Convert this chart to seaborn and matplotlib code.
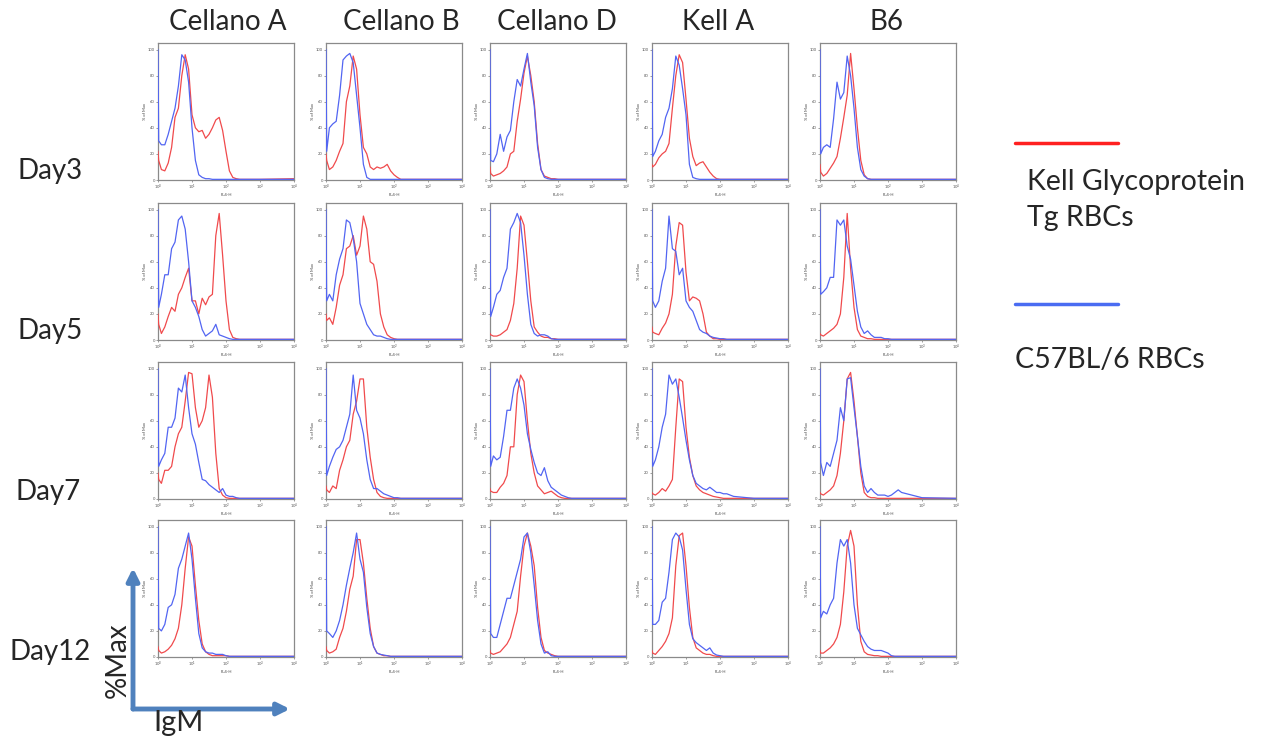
import numpy as np
import pandas as pd
import seaborn as sns
import matplotlib.pyplot as plt
from matplotlib.patches import FancyArrowPatch

# FL4-H channel, in decades (value = 10 ** exp), shared by all histograms
fl4_exp = [0, 0.02, 0.1, 0.2, 0.3, 0.4, 0.5, 0.6, 0.7, 0.8, 0.9, 1.0,
           1.1, 1.2, 1.3, 1.4, 1.5, 1.6, 1.7, 1.8, 1.9, 2.0,
           2.1, 2.2, 2.3, 2.4, 3.0, 4.0]

antigens = ['Cellano A', 'Cellano B', 'Cellano D', 'Kell A', 'B6']
days = ['Day3', 'Day5', 'Day7', 'Day12']
cells = ['Kell Glycoprotein Tg RBCs', 'C57BL/6 RBCs']

# % of Max, tg = Kell glycoprotein Tg RBCs (red), b6 = C57BL/6 RBCs (blue)
# Day 3
ca3_tg = [22, 15, 8, 7, 13, 25, 48, 55, 80, 96, 85, 50, 40, 37, 38, 32, 35, 40, 46, 48, 38, 22, 7, 2, 1, 0.5, 0.5, 1]
ca3_b6 = [100, 30, 27, 27, 35, 45, 55, 72, 96, 92, 75, 40, 15, 4, 2, 1, 1, 0.5, 0.5, 0.5, 0.5, 0.5, 0.5, 0.5, 0.5, 0.5, 0.5, 0.5]
cb3_tg = [20, 15, 8, 10, 15, 22, 28, 60, 72, 95, 85, 50, 25, 20, 10, 8, 10, 9, 10, 12, 7, 4, 2, 0.5, 0.5, 0.5, 0.5, 0.5]
cb3_b6 = [100, 22, 40, 43, 45, 65, 92, 95, 97, 90, 65, 40, 12, 2, 0.5, 0.5, 0.5, 0.5, 0.5, 0.5, 0.5, 0.5, 0.5, 0.5, 0.5, 0.5, 0.5, 0.5]
cd3_tg = [10, 5, 3, 4, 5, 7, 10, 20, 22, 45, 62, 82, 95, 80, 60, 28, 8, 3, 2, 1, 1, 0.5, 0.5, 0.5, 0.5, 0.5, 0.5, 0.5]
cd3_b6 = [100, 15, 14, 20, 35, 22, 33, 38, 60, 77, 72, 85, 97, 75, 57, 25, 8, 2, 1, 0.5, 0.5, 0.5, 0.5, 0.5, 0.5, 0.5, 0.5, 0.5]
ka3_tg = [12, 10, 12, 17, 20, 22, 28, 55, 80, 96, 90, 62, 32, 18, 11, 13, 14, 10, 6, 3, 1, 0.5, 0.5, 0.5, 0.5, 0.5, 0.5, 0.5]
ka3_b6 = [100, 18, 22, 30, 35, 48, 55, 70, 95, 88, 70, 50, 12, 2, 1, 0.5, 0.5, 0.5, 0.5, 0.5, 0.5, 0.5, 0.5, 0.5, 0.5, 0.5, 0.5, 0.5]
b63_tg = [12, 6, 3, 5, 9, 13, 18, 32, 48, 65, 97, 70, 40, 15, 4, 1, 0.5, 0.5, 0.5, 0.5, 0.5, 0.5, 0.5, 0.5, 0.5, 0.5, 0.5, 0.5]
b63_b6 = [100, 20, 25, 27, 25, 47, 75, 62, 67, 95, 80, 55, 25, 8, 3, 1, 0.5, 0.5, 0.5, 0.5, 0.5, 0.5, 0.5, 0.5, 0.5, 0.5, 0.5, 0.5]
# Day 5
ca5_tg = [20, 12, 5, 10, 18, 25, 22, 35, 40, 48, 55, 30, 30, 20, 32, 27, 33, 35, 80, 97, 65, 30, 8, 2, 1, 0.5, 0.5, 0.5]
ca5_b6 = [100, 25, 35, 50, 50, 70, 75, 92, 95, 85, 60, 30, 25, 18, 8, 3, 5, 7, 12, 4, 3, 2, 1, 0.5, 0.5, 0.5, 0.5, 0.5]
cb5_tg = [20, 15, 17, 12, 25, 42, 50, 70, 72, 80, 65, 72, 95, 85, 60, 58, 45, 20, 10, 4, 2, 1, 0.5, 0.5, 0.5, 0.5, 0.5, 0.5]
cb5_b6 = [100, 30, 35, 30, 50, 62, 70, 92, 90, 78, 60, 28, 20, 12, 8, 4, 3, 3, 2, 1, 0.5, 0.5, 0.5, 0.5, 0.5, 0.5, 0.5, 0.5]
cd5_tg = [5, 4, 3, 3, 4, 6, 8, 15, 28, 55, 95, 88, 60, 30, 10, 6, 3, 2, 2, 1, 1, 0.5, 0.5, 0.5, 0.5, 0.5, 0.5, 0.5]
cd5_b6 = [100, 18, 25, 35, 38, 48, 55, 85, 90, 97, 90, 65, 35, 12, 5, 3, 4, 4, 3, 1, 0.5, 0.5, 0.5, 0.5, 0.5, 0.5, 0.5, 0.5]
ka5_tg = [10, 6, 5, 4, 9, 13, 20, 35, 72, 90, 88, 52, 30, 33, 32, 30, 20, 6, 3, 1, 1, 0.5, 0.5, 0.5, 0.5, 0.5, 0.5, 0.5]
ka5_b6 = [100, 30, 25, 30, 45, 55, 95, 70, 68, 50, 55, 30, 25, 22, 15, 8, 6, 5, 3, 2, 1.5, 1, 1, 0.5, 0.5, 0.5, 0.5, 0.5]
b65_tg = [5, 4, 3, 5, 7, 9, 12, 20, 48, 97, 55, 25, 8, 3, 2, 1, 1, 0.5, 0.5, 0.5, 0.5, 0.5, 0.5, 0.5, 0.5, 0.5, 0.5, 0.5]
b65_b6 = [100, 35, 37, 40, 48, 48, 92, 88, 92, 72, 62, 42, 22, 10, 5, 7, 4, 2, 2, 2, 1, 1, 0.5, 0.5, 0.5, 0.5, 0.5, 0.5]
# Day 7
ca7_tg = [20, 15, 12, 22, 22, 25, 40, 50, 55, 75, 97, 96, 70, 55, 60, 70, 95, 78, 35, 8, 3, 1, 0.5, 0.5, 0.5, 0.5, 0.5, 0.5]
ca7_b6 = [100, 25, 30, 35, 55, 55, 62, 85, 82, 95, 70, 50, 42, 28, 15, 14, 11, 9, 7, 5, 8, 3, 2, 2, 1, 0.5, 0.5, 0.5]
cb7_tg = [10, 7, 5, 10, 8, 22, 30, 40, 45, 65, 75, 92, 92, 55, 32, 15, 5, 2, 1, 0.5, 0.5, 0.5, 0.5, 0.5, 0.5, 0.5, 0.5, 0.5]
cb7_b6 = [100, 18, 25, 32, 38, 40, 45, 55, 65, 95, 68, 62, 50, 30, 15, 8, 8, 6, 4, 3, 2, 1, 1, 0.5, 0.5, 0.5, 0.5, 0.5]
cd7_tg = [8, 6, 5, 5, 9, 12, 18, 40, 40, 80, 95, 90, 60, 35, 20, 10, 7, 4, 5, 6, 4, 2, 1, 0.5, 0.5, 0.5, 0.5, 0.5]
cd7_b6 = [100, 25, 33, 30, 32, 48, 68, 68, 85, 92, 85, 72, 50, 38, 28, 20, 18, 24, 14, 9, 7, 5, 3, 2, 1, 0.5, 0.5, 0.5]
ka7_tg = [5, 4, 3, 5, 8, 6, 10, 15, 55, 92, 90, 55, 32, 18, 10, 7, 5, 4, 3, 2, 1.5, 1, 0.5, 0.5, 0.5, 0.5, 0.5, 0.5]
ka7_b6 = [100, 25, 30, 40, 55, 65, 95, 88, 92, 78, 62, 45, 30, 18, 12, 10, 8, 7, 9, 7, 5, 5, 4, 4, 3, 2, 0.5, 0.5]
b67_tg = [5, 4, 3, 5, 7, 10, 18, 35, 60, 92, 97, 75, 48, 20, 5, 2, 1, 1, 0.5, 0.5, 0.5, 0.5, 0.5, 0.5, 0.5, 0.5, 0.5, 0.5]
b67_b6 = [100, 28, 18, 28, 25, 35, 45, 70, 60, 92, 93, 70, 48, 25, 10, 5, 8, 5, 3, 3, 3, 2, 3, 5, 7, 5, 1, 0.5]
# Day 12
ca12_tg = [8, 5, 3, 4, 6, 9, 14, 22, 40, 68, 92, 85, 55, 28, 10, 4, 2, 1, 1, 1, 1, 1, 0.5, 0.5, 0.5, 0.5, 0.5, 0.5]
ca12_b6 = [100, 22, 20, 25, 38, 40, 48, 68, 75, 85, 95, 75, 45, 18, 7, 4, 3, 3, 2, 2, 2, 1, 0.5, 0.5, 0.5, 0.5, 0.5, 0.5]
cb12_tg = [8, 5, 3, 4, 6, 15, 22, 35, 52, 62, 90, 90, 72, 45, 22, 8, 3, 2, 1, 1, 0.5, 0.5, 0.5, 0.5, 0.5, 0.5, 0.5, 0.5]
cb12_b6 = [100, 20, 18, 15, 20, 28, 40, 55, 68, 80, 95, 75, 65, 38, 18, 8, 3, 2, 1.5, 1, 0.5, 0.5, 0.5, 0.5, 0.5, 0.5, 0.5, 0.5]
cd12_tg = [5, 3, 2, 3, 4, 7, 10, 15, 25, 35, 62, 85, 95, 85, 70, 38, 15, 5, 3, 2, 1, 0.5, 0.5, 0.5, 0.5, 0.5, 0.5, 0.5]
cd12_b6 = [100, 18, 15, 15, 25, 35, 45, 45, 55, 65, 75, 92, 95, 80, 55, 28, 10, 3, 4, 1, 0.5, 0.5, 0.5, 0.5, 0.5, 0.5, 0.5, 0.5]
ka12_tg = [5, 3, 2, 5, 8, 12, 18, 30, 70, 93, 95, 70, 38, 15, 7, 5, 3, 2, 2, 1, 0.5, 0.5, 0.5, 0.5, 0.5, 0.5, 0.5, 0.5]
ka12_b6 = [100, 25, 25, 28, 42, 45, 65, 90, 95, 92, 82, 52, 25, 14, 11, 9, 7, 5, 7, 3, 1.5, 1, 0.5, 0.5, 0.5, 0.5, 0.5, 0.5]
b612_tg = [5, 3, 3, 5, 7, 10, 15, 25, 50, 85, 97, 85, 40, 12, 4, 2, 1.5, 1, 1, 0.5, 0.5, 0.5, 0.5, 0.5, 0.5, 0.5, 0.5, 0.5]
b612_b6 = [100, 30, 35, 33, 40, 45, 72, 90, 85, 90, 72, 40, 22, 17, 12, 8, 6, 5, 5, 5, 4, 3, 1, 0.5, 0.5, 0.5, 0.5, 0.5]

curves = {
    'Day3': [(ca3_tg, ca3_b6), (cb3_tg, cb3_b6), (cd3_tg, cd3_b6), (ka3_tg, ka3_b6), (b63_tg, b63_b6)],
    'Day5': [(ca5_tg, ca5_b6), (cb5_tg, cb5_b6), (cd5_tg, cd5_b6), (ka5_tg, ka5_b6), (b65_tg, b65_b6)],
    'Day7': [(ca7_tg, ca7_b6), (cb7_tg, cb7_b6), (cd7_tg, cd7_b6), (ka7_tg, ka7_b6), (b67_tg, b67_b6)],
    'Day12': [(ca12_tg, ca12_b6), (cb12_tg, cb12_b6), (cd12_tg, cd12_b6), (ka12_tg, ka12_b6), (b612_tg, b612_b6)],
}

rows = []
for day in days:
    for ag, pair in zip(antigens, curves[day]):
        for name, vals in zip(cells, pair):
            assert len(vals) == len(fl4_exp), (day, ag, name)
            for e, v in zip(fl4_exp, vals):
                rows.append((day, ag, name, 10 ** e, v))
df = pd.DataFrame(rows, columns=['day', 'antigen', 'cells', 'FL4-H', '% of Max'])

sns.set_style('white')
plt.rcParams['font.family'] = ['Lato', 'DejaVu Sans']

W, H = 1264, 740
fig = plt.figure(figsize=(W / 100, H / 100), dpi=100)

red = '#f04a4c'
blue = '#5265f2'
palette = {cells[0]: red, cells[1]: blue}

col_left = [158, 326, 490, 652, 820]
row_top = [43, 203, 362, 520]
ax_w, ax_h = 136, 137


def fig_xy(x, y):
    return x / W, 1 - y / H


for i, day in enumerate(days):
    for j, ag in enumerate(antigens):
        l, t = col_left[j], row_top[i]
        ax = fig.add_axes([l / W, 1 - (t + ax_h) / H, ax_w / W, ax_h / H])
        sub = df[(df['day'] == day) & (df['antigen'] == ag)]
        sns.lineplot(data=sub, x='FL4-H', y='% of Max', hue='cells',
                     hue_order=cells, palette=palette, estimator=None,
                     sort=False, lw=0.9, legend=False, ax=ax, zorder=3)
        ax.set_xscale('log')
        ax.set_xlim(1, 1e4)
        ax.set_ylim(0, 105)
        ax.set_yticks([0, 20, 40, 60, 80, 100])
        ax.set_xticks([1, 10, 100, 1000, 10000])
        ax.tick_params(axis='both', which='major', labelsize=3, length=1.5,
                       width=0.4, pad=0.8, left=True, bottom=True,
                       colors='#555555')
        ax.tick_params(axis='x', which='minor', length=1, width=0.3,
                       bottom=True, colors='#777777')
        ax.set_xlabel('FL4-H', fontsize=3, labelpad=0.5, color='#444444')
        ax.set_ylabel('% of Max', fontsize=3, labelpad=0.8, color='#444444')
        for s in ax.spines.values():
            s.set_color('#8a8a8a')
            s.set_linewidth(0.9)

# column titles
title_x = [228, 401, 557, 718, 886]
for x, ag in zip(title_x, antigens):
    fig.text(*fig_xy(x, 22), ag, fontsize=20, ha='center', va='center')

# row labels
row_label_pos = [(18, 171), (18, 331), (15, 492), (10, 652)]
for (x, y), day in zip(row_label_pos, days):
    fig.text(*fig_xy(x, y), day, fontsize=20, ha='left', va='center')

# legend
fig.add_artist(plt.Line2D([1015 / W, 1118 / W], [1 - 143 / H] * 2,
                          color='#ff2020', lw=2.5))
fig.text(*fig_xy(1027, 182), 'Kell Glycoprotein', fontsize=20.5, ha='left', va='center')
fig.text(*fig_xy(1027, 218), 'Tg RBCs', fontsize=20.5, ha='left', va='center')
fig.add_artist(plt.Line2D([1015 / W, 1118 / W], [1 - 304 / H] * 2,
                          color='#4a6cf2', lw=2.5))
fig.text(*fig_xy(1015, 360), 'C57BL/6 RBCs', fontsize=20.5, ha='left', va='center')

# axis key arrows
arrow_c = '#4f81bd'
for end in [(133, 568), (290, 709)]:
    fig.add_artist(FancyArrowPatch(fig_xy(133, 709), fig_xy(*end),
                                   transform=fig.transFigure,
                                   arrowstyle='-|>', mutation_scale=18,
                                   lw=3.5, color=arrow_c, shrinkA=0, shrinkB=0))
fig.text(*fig_xy(118, 660), '%Max', fontsize=20, rotation=90,
         ha='center', va='center')
fig.text(*fig_xy(179, 723), 'IgM', fontsize=21, ha='center', va='center')

fig.savefig('out.png', dpi=100)
